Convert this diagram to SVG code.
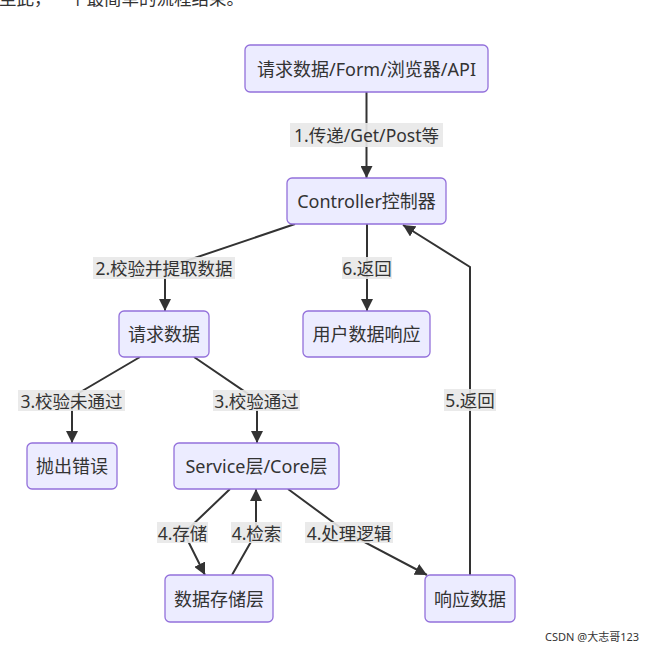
<svg xmlns="http://www.w3.org/2000/svg" width="649" height="648" viewBox="0 0 649 648">
<style>
.n rect{fill:#ECECFF;stroke:#9370DB;stroke-width:1.3}
text{font-family:"Noto Sans","Noto Sans CJK SC",sans-serif;fill:#333}
.t{font-size:18px;text-anchor:middle;dominant-baseline:central}
.e path{fill:none;stroke:#333;stroke-width:2}
.lb rect{fill:#e8e8e8;opacity:0.9}
.lb text{font-size:17.5px;text-anchor:middle;dominant-baseline:central}
</style>
<defs>
<marker id="ah" viewBox="0 0 12 12" refX="12" refY="6" markerWidth="12" markerHeight="12" markerUnits="userSpaceOnUse" orient="auto">
<path d="M0,0 L12,6 L0,12 z" fill="#333"/>
</marker>
</defs>
<rect width="649" height="648" fill="#fff"/>
<text x="-1" y="5" font-size="17.5" fill="#222">至此，一个最简单的流程结束。</text>
<g class="e">
<path d="M366.5,92 L366.5,178" marker-end="url(#ah)"/>
<path d="M295,224 L165,268 L165,311" marker-end="url(#ah)"/>
<path d="M367,224 L367,311" marker-end="url(#ah)"/>
<path d="M140,357 L72,397 L72,443" marker-end="url(#ah)"/>
<path d="M194,357 L257,400 L257,443" marker-end="url(#ah)"/>
<path d="M230,489 L184,533 L205,575" marker-end="url(#ah)"/>
<path d="M232,575 L256,533 L256,489" marker-end="url(#ah)"/>
<path d="M288,489 L349,534 L427,575" marker-end="url(#ah)"/>
<path d="M470,575 L470,267 L403,225" marker-end="url(#ah)"/>
</g>
<g class="lb">
<rect x="290" y="123" width="153" height="24"/><text x="366.5" y="135">1.传递/Get/Post等</text>
<rect x="93" y="257" width="142" height="22"/><text x="164" y="268">2.校验并提取数据</text>
<rect x="342" y="257" width="50" height="22"/><text x="367" y="268">6.返回</text>
<rect x="18" y="390" width="107" height="21"/><text x="71.5" y="400.5">3.校验未通过</text>
<rect x="213" y="390" width="87" height="21"/><text x="256.5" y="400.5">3.校验通过</text>
<rect x="157" y="522" width="51" height="21"/><text x="182.5" y="532.5">4.存储</text>
<rect x="231" y="522" width="51" height="21"/><text x="256.5" y="532.5">4.检索</text>
<rect x="305" y="522" width="88" height="21"/><text x="349" y="532.5">4.处理逻辑</text>
<rect x="444" y="389" width="52" height="22"/><text x="470" y="400">5.返回</text>
</g>
<g id="n1" class="n"><rect x="245" y="45" width="243" height="47" rx="5"/><text class="t" x="366.5" y="68.5">请求数据/Form/浏览器/API</text></g>
<g id="n2" class="n"><rect x="287" y="178" width="159" height="46" rx="5"/><text class="t" x="366.5" y="201">Controller控制器</text></g>
<g id="n3" class="n"><rect x="119" y="311" width="90" height="46" rx="5"/><text class="t" x="164" y="334">请求数据</text></g>
<g id="n4" class="n"><rect x="303" y="311" width="127" height="46" rx="5"/><text class="t" x="366.5" y="334">用户数据响应</text></g>
<g id="n5" class="n"><rect x="27" y="443" width="90" height="46" rx="5"/><text class="t" x="72" y="466">抛出错误</text></g>
<g id="n6" class="n"><rect x="174" y="443" width="165" height="46" rx="5"/><text class="t" x="256.5" y="466">Service层/Core层</text></g>
<g id="n7" class="n"><rect x="165" y="575" width="108" height="47" rx="5"/><text class="t" x="219" y="598.5">数据存储层</text></g>
<g id="n8" class="n"><rect x="425" y="575" width="90" height="47" rx="5"/><text class="t" x="470" y="598.5">响应数据</text></g>
<text x="545" y="641" font-size="11" fill="#aaa">CSDN @大志哥123</text>
</svg>
